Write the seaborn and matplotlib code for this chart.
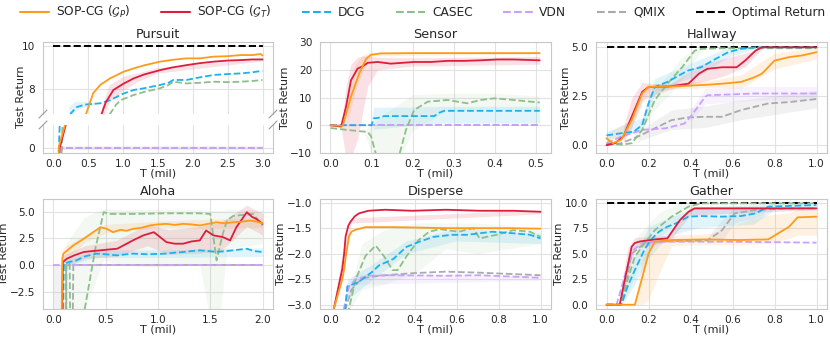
import matplotlib
matplotlib.use("Agg")
import matplotlib.pyplot as plt
from matplotlib.lines import Line2D
import seaborn as sns

# ------------------------------------------------------------------ data
LABELS = ["SOP-CG ($\\mathcal{G}_P$)", "SOP-CG ($\\mathcal{G}_T$)", "DCG", "CASEC",
          "VDN", "QMIX", "Optimal Return"]

# ---- Pursuit (x in mil steps, (x, return))
pursuit_sop_p = [(0.0, -1.0), (0.07, -0.6), (0.08, 0.1), (0.17, 1.1), (0.47, 6.9), (0.57, 7.82),
                 (0.67, 8.2), (0.81, 8.5), (1.0, 8.8), (1.15, 8.96), (1.3, 9.1), (1.53, 9.27),
                 (1.7, 9.35), (1.91, 9.42), (2.1, 9.42), (2.3, 9.5), (2.5, 9.52), (2.68, 9.57),
                 (2.85, 9.57), (2.97, 9.62), (3.0, 9.55)]
pursuit_sop_t = [(0.0, -1.0), (0.07, -0.6), (0.09, 0.0), (0.18, 1.1), (0.69, 6.87), (0.75, 7.4),
                 (0.86, 7.97), (1.0, 8.25), (1.15, 8.5), (1.3, 8.68), (1.53, 8.88), (1.7, 9.0),
                 (1.91, 9.11), (2.1, 9.2), (2.3, 9.27), (2.5, 9.32), (2.68, 9.34), (2.85, 9.37),
                 (3.0, 9.37)]
pursuit_dcg = [(0.0, -1.0), (0.07, -0.5), (0.08, 0.2), (0.09, 1.1), (0.25, 6.9), (0.33, 7.18),
               (0.45, 7.3), (0.67, 7.36), (0.81, 7.5), (1.0, 7.8), (1.15, 7.97), (1.3, 8.05),
               (1.53, 8.2), (1.65, 8.3), (1.72, 8.43), (1.91, 8.43), (2.1, 8.55), (2.3, 8.66),
               (2.5, 8.7), (2.68, 8.73), (2.85, 8.78), (3.0, 8.85)]
pursuit_casec = [(0.0, -1.0), (0.1, -0.5), (0.12, 0.0), (0.13, 1.2), (0.81, 6.87), (0.9, 7.3),
                 (0.96, 7.5), (1.15, 7.74), (1.3, 7.88), (1.53, 8.05), (1.65, 8.2), (1.72, 8.35),
                 (1.91, 8.27), (2.1, 8.3), (2.3, 8.35), (2.5, 8.33), (2.68, 8.35), (2.85, 8.38),
                 (3.0, 8.43)]
pursuit_vdn = [(0.0, -1.0), (0.1, -0.6), (0.12, 0.0), (3.0, 0.0)]
pursuit_qmix = [(0.0, -1.0), (0.1, -0.6), (0.12, 0.0), (3.0, 0.0)]
pursuit_opt = [(0.0, 10.0), (3.0, 10.0)]
pursuit_band_sop_t = [(0.69, 6.6, 7.2), (0.8, 7.4, 8.2), (1.0, 7.95, 8.6), (1.2, 8.35, 8.75),
                      (1.5, 8.75, 9.0), (3.0, 9.3, 9.45)]
pursuit_band_dcg = [(0.22, 6.6, 7.2), (0.3, 7.0, 7.45), (0.4, 7.15, 7.45), (0.6, 7.3, 7.42)]
pursuit_band_qmix = [(0.12, -0.08, 0.08), (3.0, -0.08, 0.08)]

# ---- Sensor
sensor_sop_p = [(0.0, 0.0), (0.03, -0.2), (0.05, 10.3), (0.07, 18.6), (0.087, 24.0), (0.099, 25.4),
                (0.123, 25.9), (0.2, 26.0), (0.3, 26.0), (0.4, 26.0), (0.51, 26.0)]
sensor_sop_t = [(0.0, 0.0), (0.026, -0.5), (0.038, 6.7), (0.05, 16.2), (0.066, 20.4), (0.079, 21.3),
                (0.091, 22.5), (0.115, 22.8), (0.147, 22.2), (0.204, 22.8), (0.245, 22.8),
                (0.285, 23.2), (0.326, 23.2), (0.366, 23.4), (0.407, 23.7), (0.447, 23.7),
                (0.51, 23.4)]
sensor_dcg = [(0.0, 0.0), (0.1, 0.0), (0.105, 2.5), (0.115, 2.6), (0.131, 3.3), (0.188, 3.3),
              (0.253, 3.3), (0.265, 4.5), (0.277, 5.2), (0.35, 5.2), (0.45, 5.2), (0.51, 5.2)]
sensor_casec = [(0.0, -1.0), (0.042, -1.7), (0.083, -2.3), (0.092, -2.6), (0.099, -4.0),
                (0.111, -10.5), (0.13, -16.0), (0.15, -16.0), (0.168, -10.5), (0.184, -1.7),
                (0.204, 5.5), (0.237, 8.5), (0.285, 9.1), (0.31, 8.5), (0.334, 7.9), (0.366, 9.1),
                (0.399, 9.7), (0.447, 9.1), (0.51, 8.2)]
sensor_vdn = [(0.0, 0.0), (0.51, 0.0)]
sensor_qmix = [(0.0, 0.0), (0.51, 0.0)]
sensor_band_sop_t = [(0.026, -1.0, 0.0), (0.038, -12.0, 14.0), (0.05, -12.0, 22.0),
                     (0.066, -5.0, 24.5), (0.079, 5.0, 25.0), (0.091, 14.0, 25.0),
                     (0.115, 20.0, 24.5), (0.2, 21.3, 24.3), (0.51, 22.0, 24.8)]
sensor_band_sop_p = [(0.04, 0.0, 8.0), (0.06, 12.0, 22.0), (0.08, 20.0, 25.5), (0.1, 25.0, 26.3),
                     (0.51, 25.7, 26.3)]
sensor_band_dcg = [(0.1, 0.0, 0.5), (0.105, -1.5, 6.5), (0.2, 0.0, 6.6), (0.277, 0.8, 6.8),
                   (0.51, 0.8, 6.8)]
sensor_band_casec = [(0.083, -3.0, -1.5), (0.1, -10.0, 0.0), (0.13, -12.0, 4.0),
                     (0.17, -12.0, 8.0), (0.2, -2.0, 11.0), (0.28, 5.0, 11.5), (0.4, 6.0, 11.5),
                     (0.51, 5.5, 10.5)]

# ---- Hallway
hallway_sop_p = [(0.0, 0.35), (0.03, 0.1), (0.07, 0.27), (0.12, 1.28), (0.17, 2.64), (0.2, 2.97),
                 (0.3, 3.0), (0.39, 3.04), (0.47, 3.08), (0.55, 3.14), (0.64, 3.23), (0.7, 3.45),
                 (0.74, 3.65), (0.8, 4.32), (0.87, 4.5), (0.93, 4.58), (1.0, 4.75)]
hallway_sop_t = [(0.0, 0.0), (0.04, 0.1), (0.08, 0.44), (0.12, 1.45), (0.17, 2.72), (0.2, 2.97),
                 (0.3, 3.0), (0.39, 3.14), (0.44, 3.65), (0.48, 3.9), (0.55, 3.98), (0.62, 3.98),
                 (0.66, 4.32), (0.71, 4.83), (0.74, 5.0), (1.0, 5.0)]
hallway_dcg = [(0.0, 0.5), (0.07, 0.61), (0.13, 0.69), (0.17, 1.03), (0.2, 2.13), (0.23, 2.97),
               (0.29, 3.23), (0.36, 3.65), (0.39, 3.82), (0.45, 3.98), (0.52, 4.41), (0.58, 4.75),
               (0.64, 4.92), (0.71, 5.0), (1.0, 5.0)]
hallway_casec = [(0.0, 0.1), (0.07, 0.02), (0.12, 0.1), (0.17, 0.78), (0.23, 2.3), (0.29, 3.14),
                 (0.36, 3.98), (0.42, 4.83), (0.45, 4.92), (0.55, 4.95), (1.0, 4.95)]
hallway_vdn = [(0.0, 0.1), (0.07, 0.44), (0.17, 0.78), (0.28, 0.86), (0.37, 1.1), (0.4, 1.45),
               (0.47, 2.47), (0.48, 2.55), (0.71, 2.64), (1.0, 2.64)]
hallway_qmix = [(0.0, 0.0), (0.07, 0.1), (0.15, 0.44), (0.23, 0.86), (0.31, 1.28), (0.39, 1.42),
                (0.47, 1.45), (0.55, 1.45), (0.64, 1.79), (0.77, 2.13), (0.87, 2.2), (1.0, 2.36)]
hallway_opt = [(0.0, 5.0), (1.0, 5.0)]
hallway_band_sop_p = [(0.0, 0.1, 0.6), (0.1, 0.5, 1.2), (0.2, 2.8, 3.1), (0.5, 2.95, 3.3),
                      (0.64, 2.9, 3.6), (0.8, 3.9, 4.7), (1.0, 4.4, 4.95)]
hallway_band_sop_t = [(0.08, 0.1, 0.9), (0.12, 0.9, 2.4), (0.17, 2.3, 3.2), (0.3, 2.85, 3.1),
                      (0.44, 3.2, 4.1), (0.55, 3.5, 4.4), (0.66, 4.0, 4.7), (0.74, 4.9, 5.0)]
hallway_band_dcg = [(0.0, 0.3, 0.7), (0.17, 0.7, 1.4), (0.23, 2.6, 3.4), (0.36, 3.3, 4.0),
                    (0.45, 3.6, 4.4), (0.58, 4.5, 5.0), (0.71, 4.95, 5.0)]
hallway_band_casec = [(0.12, 0.0, 0.3), (0.23, 1.8, 2.8), (0.3, 2.6, 3.7), (0.36, 3.4, 4.5),
                      (0.45, 4.8, 5.0)]
hallway_band_vdn = [(0.4, 1.2, 1.8), (0.47, 2.1, 2.9), (0.7, 2.3, 3.0), (1.0, 2.3, 3.0)]
hallway_band_qmix = [(0.15, 0.2, 0.7), (0.31, 0.8, 1.8), (0.47, 0.9, 2.0), (0.64, 1.3, 2.3),
                     (1.0, 1.9, 2.8)]

# ---- Aloha
aloha_sop_p = [(0.0, -10.0), (0.073, -10.0), (0.085, 0.6), (0.095, 1.06), (0.19, 1.83), (0.29, 2.45),
               (0.38, 3.07), (0.45, 3.54), (0.51, 3.38), (0.57, 3.07), (0.64, 3.29), (0.7, 3.2),
               (0.76, 3.38), (0.85, 3.5), (0.92, 3.7), (1.0, 3.8), (1.08, 3.85), (1.16, 3.75),
               (1.24, 3.85), (1.32, 3.8), (1.4, 3.7), (1.48, 3.85), (1.56, 4.0), (1.64, 3.9),
               (1.72, 4.0), (1.8, 4.05), (1.88, 4.16), (1.95, 4.05), (2.0, 3.9)]
aloha_sop_t = [(0.0, -10.0), (0.074, -10.0), (0.09, 0.28), (0.13, 0.59), (0.2, 0.9), (0.29, 1.21),
               (0.37, 1.3), (0.45, 1.37), (0.53, 1.45), (0.61, 1.52), (0.67, 1.83), (0.76, 2.3),
               (0.86, 2.77), (0.96, 3.07), (1.02, 2.61), (1.08, 2.14), (1.16, 1.99), (1.24, 1.99),
               (1.32, 2.2), (1.4, 2.3), (1.46, 3.23), (1.53, 2.77), (1.62, 2.61), (1.69, 2.3),
               (1.75, 3.54), (1.85, 4.94), (1.9, 4.5), (1.94, 4.32), (2.0, 3.85)]
aloha_dcg = [(0.0, -10.0), (0.08, -10.0), (0.1, 0.12), (0.16, 0.3), (0.22, 0.43), (0.3, 0.8),
             (0.41, 1.06), (0.5, 1.0), (0.61, 0.9), (0.7, 1.0), (0.76, 1.06), (0.9, 1.0),
             (1.08, 1.06), (1.16, 1.15), (1.24, 1.21), (1.32, 1.3), (1.4, 1.37), (1.48, 1.3),
             (1.56, 1.21), (1.7, 1.35), (1.85, 1.52), (1.92, 1.3), (2.0, 1.21)]
aloha_casec = [(0.0, -10.0), (0.115, -10.0), (0.125, 0.1), (0.155, 0.1), (0.165, -10.0),
               (0.28, -10.0), (0.3, -4.1), (0.4, 1.5), (0.48, 4.94), (0.54, 4.78), (0.76, 4.78),
               (1.08, 4.84), (1.4, 4.84), (1.5, 4.78), (1.56, 0.43), (1.62, 2.92), (1.66, 4.16),
               (1.72, 4.6), (1.91, 4.78), (2.0, 3.7)]
aloha_vdn = [(0.0, 0.0), (2.0, 0.0)]
aloha_qmix = [(0.0, -10.0), (0.11, -10.0), (0.12, 0.0), (0.13, -10.0), (0.18, -10.0), (0.19, 0.0),
              (2.0, 0.0)]
aloha_band_sop_p = [(0.09, 0.2, 1.6), (0.3, 2.1, 2.8), (0.5, 3.0, 3.8), (1.0, 3.5, 4.1),
                    (1.5, 3.4, 4.3), (2.0, 3.5, 4.4)]
aloha_band_sop_t = [(0.09, -0.3, 0.9), (0.3, 0.6, 1.8), (0.6, 0.8, 2.3), (0.9, 1.8, 3.8),
                    (1.1, 1.0, 3.3), (1.4, 1.1, 3.6), (1.6, 1.3, 4.0), (1.85, 3.6, 5.6),
                    (2.0, 2.8, 4.8)]
aloha_band_dcg = [(0.1, -0.2, 0.4), (0.4, 0.7, 1.4), (1.0, 0.7, 1.4), (2.0, 0.8, 1.6)]
aloha_band_casec = [(0.12, -4.2, 2.0), (0.3, -4.2, 4.5), (0.48, 0.5, 5.3), (0.6, 0.0, 5.2),
                    (1.0, -0.2, 5.2), (1.4, 0.0, 5.2), (1.48, -4.2, 5.1), (1.6, -4.2, 5.1),
                    (1.66, 1.5, 5.2), (2.0, 2.0, 5.2)]
aloha_band_qmix = [(0.0, -10.0, 0.0), (0.08, -10.0, 0.0)]

# ---- Disperse
disperse_sop_p = [(0.0, -3.6), (0.016, -3.07), (0.056, -2.5), (0.065, -2.3), (0.072, -2.07),
                  (0.088, -1.66), (0.1, -1.57), (0.12, -1.53), (0.167, -1.48), (0.31, -1.48),
                  (0.55, -1.5), (0.71, -1.5), (0.85, -1.5), (1.0, -1.51)]
disperse_sop_t = [(0.0, -3.6), (0.016, -3.07), (0.056, -2.3), (0.065, -2.0), (0.072, -1.66),
                  (0.085, -1.45), (0.096, -1.37), (0.115, -1.27), (0.136, -1.21), (0.18, -1.16),
                  (0.26, -1.14), (0.39, -1.16), (0.55, -1.14), (0.71, -1.16), (0.87, -1.16),
                  (1.0, -1.18)]
disperse_dcg = [(0.0, -3.6), (0.07, -3.1), (0.08, -2.64), (0.104, -2.6), (0.135, -2.55),
                (0.167, -2.45), (0.2, -2.35), (0.23, -2.23), (0.3, -2.1), (0.36, -1.87),
                (0.42, -1.77), (0.49, -1.67), (0.58, -1.63), (0.65, -1.63), (0.71, -1.6),
                (0.77, -1.57), (0.87, -1.6), (0.95, -1.63), (1.0, -1.7)]
disperse_casec = [(0.0, -3.6), (0.08, -3.3), (0.088, -3.07), (0.12, -2.5), (0.167, -2.04),
                  (0.215, -1.84), (0.255, -2.05), (0.295, -2.32), (0.32, -2.32), (0.36, -2.06),
                  (0.42, -1.73), (0.47, -1.57), (0.52, -1.52), (0.61, -1.57), (0.68, -1.5),
                  (0.71, -1.7), (0.79, -1.63), (0.87, -1.54), (0.95, -1.57), (1.0, -1.67)]
disperse_vdn = [(0.0, -3.6), (0.064, -3.07), (0.088, -2.64), (0.12, -2.5), (0.18, -2.43),
                (0.28, -2.42), (0.55, -2.43), (0.71, -2.42), (1.0, -2.47)]
disperse_qmix = [(0.0, -3.6), (0.07, -3.1), (0.1, -2.7), (0.15, -2.48), (0.23, -2.43),
                 (0.39, -2.38), (0.55, -2.35), (0.71, -2.37), (1.0, -2.42)]
disperse_band_sop_t = [(0.02, -3.1, -2.9), (0.06, -2.4, -1.9), (0.1, -1.4, -1.3), (1.0, -1.22, -1.14)]
disperse_band_dcg = [(0.08, -2.9, -2.5), (0.2, -2.5, -2.2), (0.36, -2.0, -1.75), (0.6, -1.75, -1.5),
                     (1.0, -1.8, -1.6)]
disperse_band_casec = [(0.09, -3.1, -2.8), (0.15, -2.7, -1.8), (0.25, -2.6, -1.55), (0.4, -2.4, -1.4),
                       (0.55, -1.9, -1.4), (0.7, -2.0, -1.4), (0.85, -1.9, -1.45), (1.0, -1.8, -1.55)]
disperse_band_vdn = [(0.07, -3.0, -2.6), (0.12, -2.6, -2.4), (1.0, -2.52, -2.42)]

# ---- Gather
gather_sop_p = [(0.0, 0.0), (0.135, 0.0), (0.167, 2.42), (0.2, 5.0), (0.23, 6.18), (0.31, 6.34),
                (0.47, 6.4), (0.63, 6.34), (0.77, 6.4), (0.87, 7.65), (0.91, 8.56), (1.0, 8.63)]
gather_sop_t = [(0.0, 0.0), (0.063, 0.0), (0.087, 2.42), (0.12, 5.69), (0.135, 6.05), (0.16, 6.2),
                (0.23, 6.4), (0.29, 6.5), (0.35, 8.3), (0.39, 9.1), (0.42, 9.44), (0.71, 9.44),
                (1.0, 9.44)]
gather_dcg = [(0.0, 0.0), (0.071, 0.0), (0.1, 1.76), (0.135, 3.4), (0.18, 5.36), (0.21, 6.34),
              (0.25, 7.16), (0.29, 7.65), (0.33, 7.97), (0.39, 8.63), (0.45, 8.69), (0.55, 8.63),
              (0.64, 8.69), (0.71, 8.95), (0.77, 9.61), (1.0, 9.77)]
gather_casec = [(0.0, 0.0), (0.071, 0.0), (0.1, 2.42), (0.135, 4.7), (0.18, 6.0), (0.23, 7.3),
                (0.31, 8.63), (0.39, 9.61), (0.45, 9.93), (1.0, 9.93)]
gather_vdn = [(0.0, 0.0), (0.048, 0.0), (0.095, 3.4), (0.127, 5.36), (0.167, 6.0), (0.23, 6.18),
              (0.55, 6.18), (1.0, 6.08)]
gather_qmix = [(0.0, 0.0), (0.071, 0.0), (0.12, 5.0), (0.18, 6.0), (0.23, 6.18), (0.48, 6.3),
               (0.55, 7.3), (0.61, 8.95), (0.71, 9.28), (0.87, 9.44), (1.0, 9.44)]
gather_opt = [(0.0, 10.0), (1.0, 10.0)]
gather_band_sop_p = [(0.135, 0.0, 0.2), (0.17, 0.0, 4.5), (0.2, 0.5, 6.0), (0.25, 3.0, 6.4),
                     (0.31, 5.8, 6.8), (0.5, 5.9, 7.0), (0.7, 5.9, 8.5), (0.77, 6.0, 8.8),
                     (0.87, 6.5, 9.0), (0.91, 6.8, 9.3), (1.0, 6.8, 9.3)]
gather_band_sop_t = [(0.06, 0.0, 0.3), (0.1, 2.5, 5.5), (0.135, 5.5, 6.6), (0.3, 6.2, 6.8),
                     (0.4, 8.8, 9.6), (1.0, 9.3, 9.6)]
gather_band_dcg = [(0.07, 0.0, 0.3), (0.135, 2.0, 4.8), (0.2, 4.6, 7.6), (0.3, 6.8, 8.6),
                   (0.45, 7.6, 9.6), (0.7, 7.9, 9.8), (0.8, 9.3, 9.9), (1.0, 9.5, 9.9)]
gather_band_casec = [(0.08, 0.0, 1.5), (0.15, 3.5, 6.8), (0.25, 6.5, 9.0), (0.35, 8.5, 10.0),
                     (0.45, 9.8, 10.0)]
gather_band_qmix = [(0.48, 6.0, 6.6), (0.55, 6.3, 8.3), (0.61, 8.0, 9.6), (0.75, 8.8, 9.7)]

# ------------------------------------------------------------------ style
COLORS = ["#FF9A1A", "#DC1E3C", "#1DB0EE", "#8DBF8B", "#C9A0FF", "#AAAAAA", "black"]
STYLES = ["-", "-", "--", "--", "--", "--", "--"]
BAND_ALPHA = [0.13, 0.13, 0.13, 0.10, 0.13, 0.16]
DRAW_ORDER = [5, 4, 3, 2, 1, 0]
LW = 1.3

sns.set_style("whitegrid", {"axes.edgecolor": "#c8c8c8", "grid.color": "#e2e2e2"})
plt.rcParams.update({
    "font.family": ["DejaVu Sans"],
    "xtick.labelsize": 7.6, "ytick.labelsize": 7.6,
    "axes.labelsize": 8.0, "axes.titlesize": 9.2,
    "axes.linewidth": 0.8, "grid.linewidth": 0.8,
    "xtick.major.pad": 0.8, "ytick.major.pad": 2.0,
})

W, H = 830, 337
fig = plt.figure(figsize=(W / 100, H / 100), dpi=100)


def px_box(left, top, right, bottom):
    return [left / W, 1 - bottom / H, (right - left) / W, (bottom - top) / H]


def draw_panel(ax, series, bands, optimal):
    if optimal is not None:
        sns.lineplot(x=[p[0] for p in optimal], y=[p[1] for p in optimal], ax=ax,
                     color=COLORS[6], linestyle=STYLES[6], linewidth=LW + 0.1, zorder=2,
                     estimator=None, legend=False)
    for i, band in bands.items():
        ax.fill_between([b[0] for b in band], [b[1] for b in band], [b[2] for b in band],
                        color=COLORS[i], alpha=BAND_ALPHA[i], linewidth=0, zorder=1)
    for i in DRAW_ORDER:
        pts = series[i]
        sns.lineplot(x=[p[0] for p in pts], y=[p[1] for p in pts], ax=ax, color=COLORS[i],
                     linestyle=STYLES[i], linewidth=LW, zorder=3,
                     estimator=None, sort=False, legend=False)
    ax.set_xlabel("")
    ax.set_ylabel("")


cols = [(43, 273), (320, 551), (596, 827)]
row1 = (42, 153)
row2 = (199, 309)

# ---- Pursuit (broken axis)
ax_up = fig.add_axes(px_box(cols[0][0], 42, cols[0][1], 114))
ax_lo = fig.add_axes(px_box(cols[0][0], 125, cols[0][1], 153))
p_series = [pursuit_sop_p, pursuit_sop_t, pursuit_dcg, pursuit_casec, pursuit_vdn, pursuit_qmix]
p_bands = {1: pursuit_band_sop_t, 2: pursuit_band_dcg, 5: pursuit_band_qmix}
for a in (ax_up, ax_lo):
    draw_panel(a, p_series, p_bands, pursuit_opt)
    a.set_xlim(-0.15, 3.15)
    a.set_xticks([0.0, 0.5, 1.0, 1.5, 2.0, 2.5, 3.0])
ax_up.set_ylim(6.87, 10.17)
ax_up.set_yticks([8, 10])
ax_lo.set_ylim(-0.23, 1.05)
ax_lo.set_yticks([0])
ax_up.tick_params(labelbottom=False)
ax_up.spines["bottom"].set_visible(False)
ax_lo.spines["top"].set_visible(False)
ax_up.set_title("Pursuit", pad=3)
ax_lo.set_xlabel("T (mil)", labelpad=-0.5)
fig.text(21 / W, 1 - 97 / H, "Test Return", rotation=90, ha="center", va="center", fontsize=8.0)
dx, dy = 4 / W, 4 / H
for xpx in cols[0]:
    for ypx in (114, 125):
        xf, yf = xpx / W, 1 - ypx / H
        fig.add_artist(Line2D([xf - dx, xf + dx], [yf - dy, yf + dy], color="#9a9a9a",
                              linewidth=0.8, transform=fig.transFigure))

# ---- other panels
panels = [
    ("Sensor", cols[1], row1,
     [sensor_sop_p, sensor_sop_t, sensor_dcg, sensor_casec, sensor_vdn, sensor_qmix],
     {0: sensor_band_sop_p, 1: sensor_band_sop_t, 2: sensor_band_dcg, 3: sensor_band_casec},
     None, (-0.0255, 0.5375), (-10, 30), [0, 0.1, 0.2, 0.3, 0.4, 0.5], [-10, 0, 10, 20, 30]),
    ("Hallway", cols[2], row1,
     [hallway_sop_p, hallway_sop_t, hallway_dcg, hallway_casec, hallway_vdn, hallway_qmix],
     {0: hallway_band_sop_p, 1: hallway_band_sop_t, 2: hallway_band_dcg, 3: hallway_band_casec,
      4: hallway_band_vdn, 5: hallway_band_qmix},
     hallway_opt, (-0.05, 1.05), (-0.4, 5.27), [0, 0.2, 0.4, 0.6, 0.8, 1.0], [0, 2.5, 5.0]),
    ("Aloha", cols[0], row2,
     [aloha_sop_p, aloha_sop_t, aloha_dcg, aloha_casec, aloha_vdn, aloha_qmix],
     {0: aloha_band_sop_p, 1: aloha_band_sop_t, 2: aloha_band_dcg, 3: aloha_band_casec,
      5: aloha_band_qmix},
     None, (-0.1, 2.1), (-4.13, 6.18), [0, 0.5, 1.0, 1.5, 2.0], [-2.5, 0, 2.5, 5.0]),
    ("Disperse", cols[1], row2,
     [disperse_sop_p, disperse_sop_t, disperse_dcg, disperse_casec, disperse_vdn, disperse_qmix],
     {1: disperse_band_sop_t, 2: disperse_band_dcg, 3: disperse_band_casec, 4: disperse_band_vdn},
     None, (-0.05, 1.05), (-3.08, -0.93), [0, 0.2, 0.4, 0.6, 0.8, 1.0],
     [-3.0, -2.5, -2.0, -1.5, -1.0]),
    ("Gather", cols[2], row2,
     [gather_sop_p, gather_sop_t, gather_dcg, gather_casec, gather_vdn, gather_qmix],
     {0: gather_band_sop_p, 1: gather_band_sop_t, 2: gather_band_dcg, 3: gather_band_casec,
      5: gather_band_qmix},
     gather_opt, (-0.05, 1.05), (-0.42, 10.36), [0, 0.2, 0.4, 0.6, 0.8, 1.0],
     [0, 2.5, 5.0, 7.5, 10.0]),
]
for title, (l, r), (t, b), ser, bands, opt, xl, yl, xt, yt in panels:
    ax = fig.add_axes(px_box(l, t, r, b))
    draw_panel(ax, ser, bands, opt)
    ax.set_xlim(*xl)
    ax.set_ylim(*yl)
    ax.set_xticks(xt)
    ax.set_yticks(yt)
    ax.set_title(title, pad=3)
    ax.set_xlabel("T (mil)", labelpad=-0.5)
    ax.set_ylabel("Test Return", labelpad=0.5)

# ---- legend
handles = [Line2D([0], [0], color=COLORS[i], linestyle=STYLES[i], linewidth=1.5) for i in range(7)]
fig.legend(handles, LABELS, loc="center", bbox_to_anchor=(0.509, 1 - 12 / H), ncol=7,
           frameon=False, fontsize=8.8, handlelength=2.4, columnspacing=2.5, handletextpad=0.55,
           borderaxespad=0)

fig.savefig("out.png", dpi=100)
